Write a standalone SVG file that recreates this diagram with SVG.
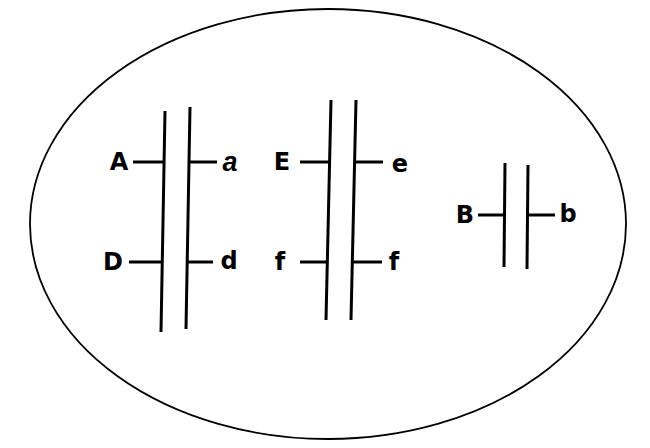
<svg xmlns="http://www.w3.org/2000/svg" width="650" height="448" viewBox="0 0 650 448">
<style>
.bg{fill:#fff}
.cell{fill:none;stroke:#000;stroke-width:1.8}
.chr{stroke:#000;stroke-width:3;stroke-linecap:butt;fill:none}
.lbl{font-family:"DejaVu Sans","Liberation Sans",sans-serif;font-weight:bold;font-size:24px;fill:#000;dominant-baseline:central}
.it{font-family:"Liberation Sans",sans-serif;font-style:italic;font-weight:bold;font-size:27px;fill:#000;dominant-baseline:central}
</style>
<rect class="bg" width="650" height="448"/>
<g id="cell"><ellipse class="cell" cx="328" cy="224" rx="298" ry="215"/></g>
<g id="connectors">
<line class="chr" x1="165" y1="111" x2="161" y2="332"/>
<line class="chr" x1="190" y1="107" x2="186" y2="329"/>
<line class="chr" x1="331" y1="100" x2="326" y2="320"/>
<line class="chr" x1="356" y1="100" x2="351" y2="320"/>
<line class="chr" x1="505" y1="163" x2="504" y2="267"/>
<line class="chr" x1="528" y1="165" x2="527" y2="269"/>
<line class="chr" x1="133" y1="162" x2="163" y2="162"/>
<line class="chr" x1="189" y1="162" x2="217" y2="162"/>
<line class="chr" x1="129" y1="262" x2="162" y2="262"/>
<line class="chr" x1="187" y1="262" x2="213" y2="262"/>
<line class="chr" x1="300" y1="162" x2="330" y2="162"/>
<line class="chr" x1="355" y1="162" x2="383" y2="162"/>
<line class="chr" x1="300" y1="262" x2="328" y2="262"/>
<line class="chr" x1="353" y1="262" x2="382" y2="262"/>
<line class="chr" x1="478" y1="215" x2="505" y2="215"/>
<line class="chr" x1="528" y1="215" x2="555" y2="215"/>
</g>
<g id="label-A"><text class="lbl" x="119" y="162" text-anchor="middle">A</text></g>
<g id="label-a"><text class="it" x="230" y="162" text-anchor="middle">a</text></g>
<g id="label-D"><text class="lbl" x="113" y="262" text-anchor="middle">D</text></g>
<g id="label-d"><text class="lbl" x="229" y="261" text-anchor="middle">d</text></g>
<g id="label-E"><text class="lbl" x="282" y="162" text-anchor="middle">E</text></g>
<g id="label-e"><text class="lbl" x="400" y="164" text-anchor="middle">e</text></g>
<g id="label-f1"><text class="lbl" x="280" y="262" text-anchor="middle">f</text></g>
<g id="label-f2"><text class="lbl" x="394" y="262" text-anchor="middle">f</text></g>
<g id="label-B"><text class="lbl" x="465" y="215" text-anchor="middle">B</text></g>
<g id="label-b"><text class="lbl" x="568" y="214" text-anchor="middle">b</text></g>
</svg>
